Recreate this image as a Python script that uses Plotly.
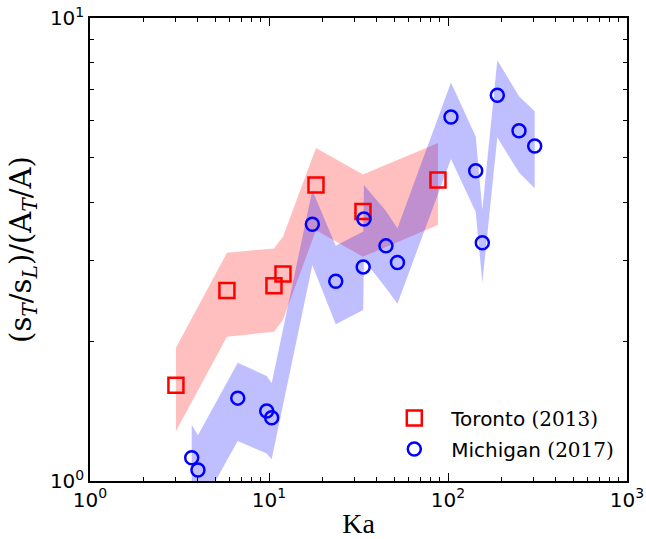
import plotly.graph_objects as go

# Toronto (2013)
toronto_ka = [3.02, 5.82, 10.66, 11.97, 18.3, 33.5, 87.9]
toronto_val = [1.61, 2.58, 2.64, 2.80, 4.36, 3.82, 4.47]
toronto_err = [0.33, 0.53, 0.54, 0.57, 0.88, 0.77, 0.90]

# Michigan (2017)
michigan_ka = [3.70, 4.01, 6.69, 9.71, 10.35, 17.46, 23.6, 33.6, 33.9, 45.0, 52.2,
               103.9, 142.8, 155.5, 188.6, 249.3, 305.0]
michigan_val = [1.123, 1.056, 1.51, 1.416, 1.37, 3.585, 2.70, 2.90, 3.68, 3.22, 2.965,
                6.11, 4.68, 3.27, 6.81, 5.71, 5.29]
michigan_err = [0.20, 0.20, 0.29, 0.27, 0.256, 0.66, 0.52, 0.56, 0.68, 0.61, 0.55,
                1.15, 0.87, 0.59, 1.29, 1.07, 1.00]

x_ticks = [1, 10, 100, 1000]
x_ticktext = ["10<sup>0</sup>", "10<sup>1</sup>", "10<sup>2</sup>", "10<sup>3</sup>"]
y_ticks = [1, 10]
y_ticktext = ["10<sup>0</sup>", "10<sup>1</sup>"]
x_minor = [m * 10 ** d for d in range(3) for m in range(2, 10)]
y_minor = list(range(2, 10))

SERIF = "DejaVu Serif"


def band(xs, vals, errs):
    up = [v + e for v, e in zip(vals, errs)]
    lo = [v - e for v, e in zip(vals, errs)]
    return list(xs) + list(xs)[::-1], up + lo[::-1]


fig = go.Figure()

bx, by = band(toronto_ka, toronto_val, toronto_err)
fig.add_trace(go.Scatter(x=bx, y=by, fill="toself", mode="lines",
                         line=dict(width=0), fillcolor="rgba(255,0,0,0.25)",
                         hoverinfo="skip", showlegend=False))
bx, by = band(michigan_ka, michigan_val, michigan_err)
fig.add_trace(go.Scatter(x=bx, y=by, fill="toself", mode="lines",
                         line=dict(width=0), fillcolor="rgba(0,0,255,0.25)",
                         hoverinfo="skip", showlegend=False))

fig.add_trace(go.Scatter(
    x=toronto_ka, y=toronto_val, mode="markers", legendgroup="t",
    name=f"Toronto <span style='font-family:{SERIF}'>(2013)</span>",
    marker=dict(symbol="square-open", size=15, color="#ff0000",
                line=dict(width=2.5, color="#ff0000"))))
fig.add_trace(go.Scatter(
    x=michigan_ka, y=michigan_val, mode="markers", legendgroup="m",
    name=f"Michigan <span style='font-family:{SERIF}'>(2017)</span>",
    marker=dict(symbol="circle-open", size=13, color="#0000ff",
                line=dict(width=2.5, color="#0000ff"))))

axis_common = dict(
    type="log", showgrid=False, zeroline=False, showline=True,
    linecolor="black", linewidth=1.5, mirror="ticks",
    ticks="inside", ticklen=8, tickwidth=1, tickcolor="black",
    tickfont=dict(family="DejaVu Sans", size=20, color="black"),
)

fig.update_xaxes(**axis_common, range=[0, 3], tickmode="array",
                 tickvals=x_ticks, ticktext=x_ticktext,
                 minor=dict(ticks="inside", ticklen=4, tickwidth=1, tickcolor="black",
                            tickmode="array", tickvals=x_minor, showgrid=False),
                 title=dict(text="Ka", standoff=6,
                            font=dict(family="Liberation Serif", size=28, color="black")))
fig.update_yaxes(**axis_common, range=[0, 1], tickmode="array",
                 tickvals=y_ticks, ticktext=y_ticktext,
                 minor=dict(ticks="inside", ticklen=4, tickwidth=1, tickcolor="black",
                            tickmode="array", tickvals=y_minor, showgrid=False),
                 title=dict(text="(s<sub><i>T</i></sub>/s<sub><i>L</i></sub>)/(A<sub><i>T</i></sub>/A)",
                            standoff=10,
                            font=dict(family=SERIF, size=29, color="black")))

fig.update_layout(
    width=646, height=539,
    margin=dict(l=90, r=19, t=18, b=58, autoexpand=False),
    paper_bgcolor="white", plot_bgcolor="white",
    legend=dict(x=0.535, y=0.178, xanchor="left", yanchor="top",
                bgcolor="rgba(0,0,0,0)", borderwidth=0, itemwidth=64,
                tracegroupgap=2,
                font=dict(family="DejaVu Sans", size=20, color="black")),
)

fig.write_html("out.html", config={"displayModeBar": False},
               post_script="document.body.style.margin='0px';")
